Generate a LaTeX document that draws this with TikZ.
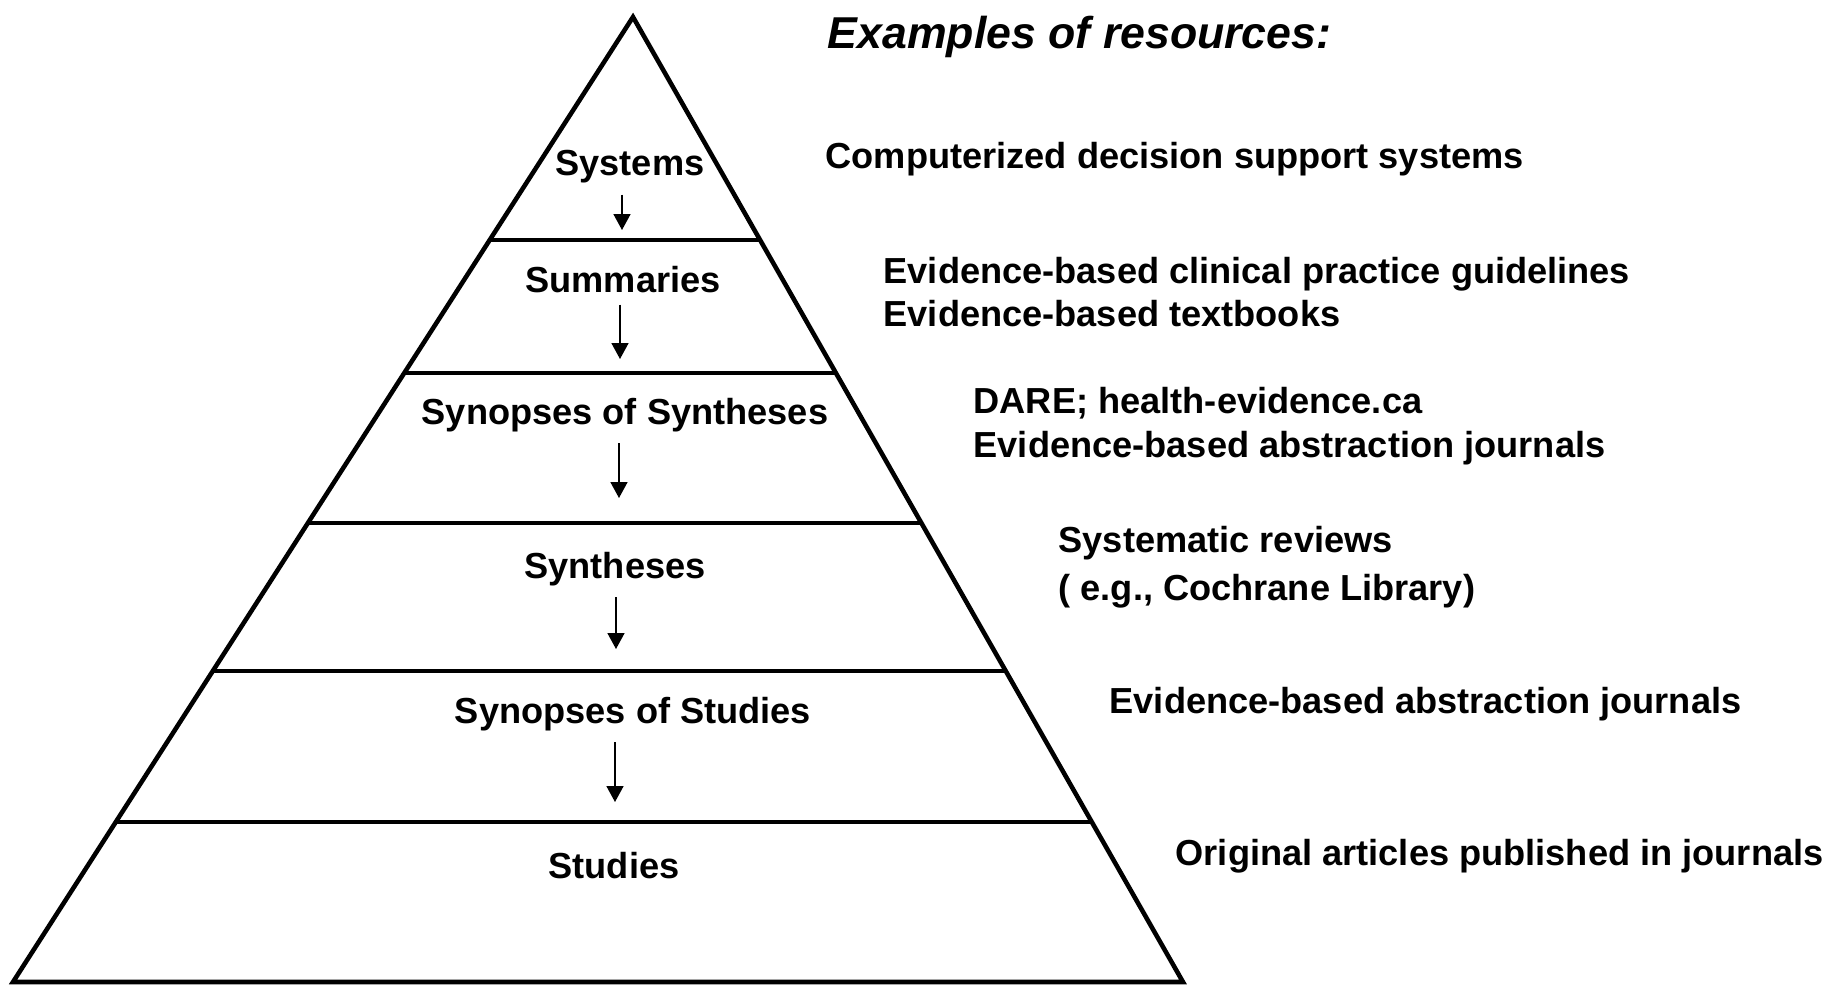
\documentclass[tikz,border=0pt]{standalone}
\usepackage{fontspec}
\setmainfont{Liberation Sans}
\usetikzlibrary{arrows.meta,calc}

\tikzset{
  level/.style={line width=1.3pt},
  lbl/.style={font=\fontsize{10.3}{12.4}\selectfont\bfseries, inner sep=0pt},
  res/.style={lbl, anchor=west, align=left},
  down/.style={-{Triangle[length=1.6mm,width=1.7mm]}, line width=0.45pt, shorten <=3pt}
}

\begin{document}
\begin{tikzpicture}[x=0.1mm,y=-0.1mm]
    \useasboundingbox (0,0) rectangle (1827,989);
    % pyramid
    \coordinate (apex) at (633,17);
    \coordinate (bl) at (13,982);
    \coordinate (br) at (1183,982);
    \draw[level] (apex) -- (bl) -- (br) -- cycle;
    \foreach \y in {240,373,523,671,822}
        \draw[level] ($(apex)!{(\y-17)/965}!(bl)$) -- ($(apex)!{(\y-17)/965}!(br)$);

    % levels
    \node[lbl] (sys) at (630,167) {Systems};
    \node[lbl] (sum) at (623,280) {Summaries};
    \node[lbl] (synsyn) at (625,415) {Synopses of Syntheses};
    \node[lbl] (syn) at (615,569) {Syntheses};
    \node[lbl] (synstu) at (633,714) {Synopses of Studies};
    \node[lbl] (stu) at (614,866) {Studies};

    \coordinate (sysend) at (622,230);
    \coordinate (sumend) at (620,359);
    \coordinate (synsynend) at (619,498);
    \coordinate (synend) at (616,649);
    \coordinate (synstuend) at (615,802);
    \draw[down] (sys.south -| sysend) -- (sysend);
    \draw[down] (sum.south -| sumend) -- (sumend);
    \draw[down] (synsyn.south -| synsynend) -- (synsynend);
    \draw[down] (syn.south -| synend) -- (synend);
    \draw[down] (synstu.south -| synstuend) -- (synstuend);

    % resources
    \node[lbl, anchor=west, font=\fontsize{12.7}{15}\selectfont\bfseries\itshape] (head) at (827,37) {Examples of resources:};
    \node[res] (r1) at (825,159) {Computerized decision support systems};
    \node[res] (r2) at (883,292) {Evidence-based clinical practice guidelines\\Evidence-based textbooks};
    \node[res] (r3) at (973,426) {DARE; health-evidence.ca\\Evidence-based abstraction journals};
    \node[res, font=\fontsize{10.3}{13.8}\selectfont\bfseries] (r4) at (1058,567) {Systematic reviews\\( e.g., Cochrane Library)};
    \node[res] (r5) at (1109,704) {Evidence-based abstraction journals};
    \node[res] (r6) at (1175,856) {Original articles published in journals};
\end{tikzpicture}
\end{document}
